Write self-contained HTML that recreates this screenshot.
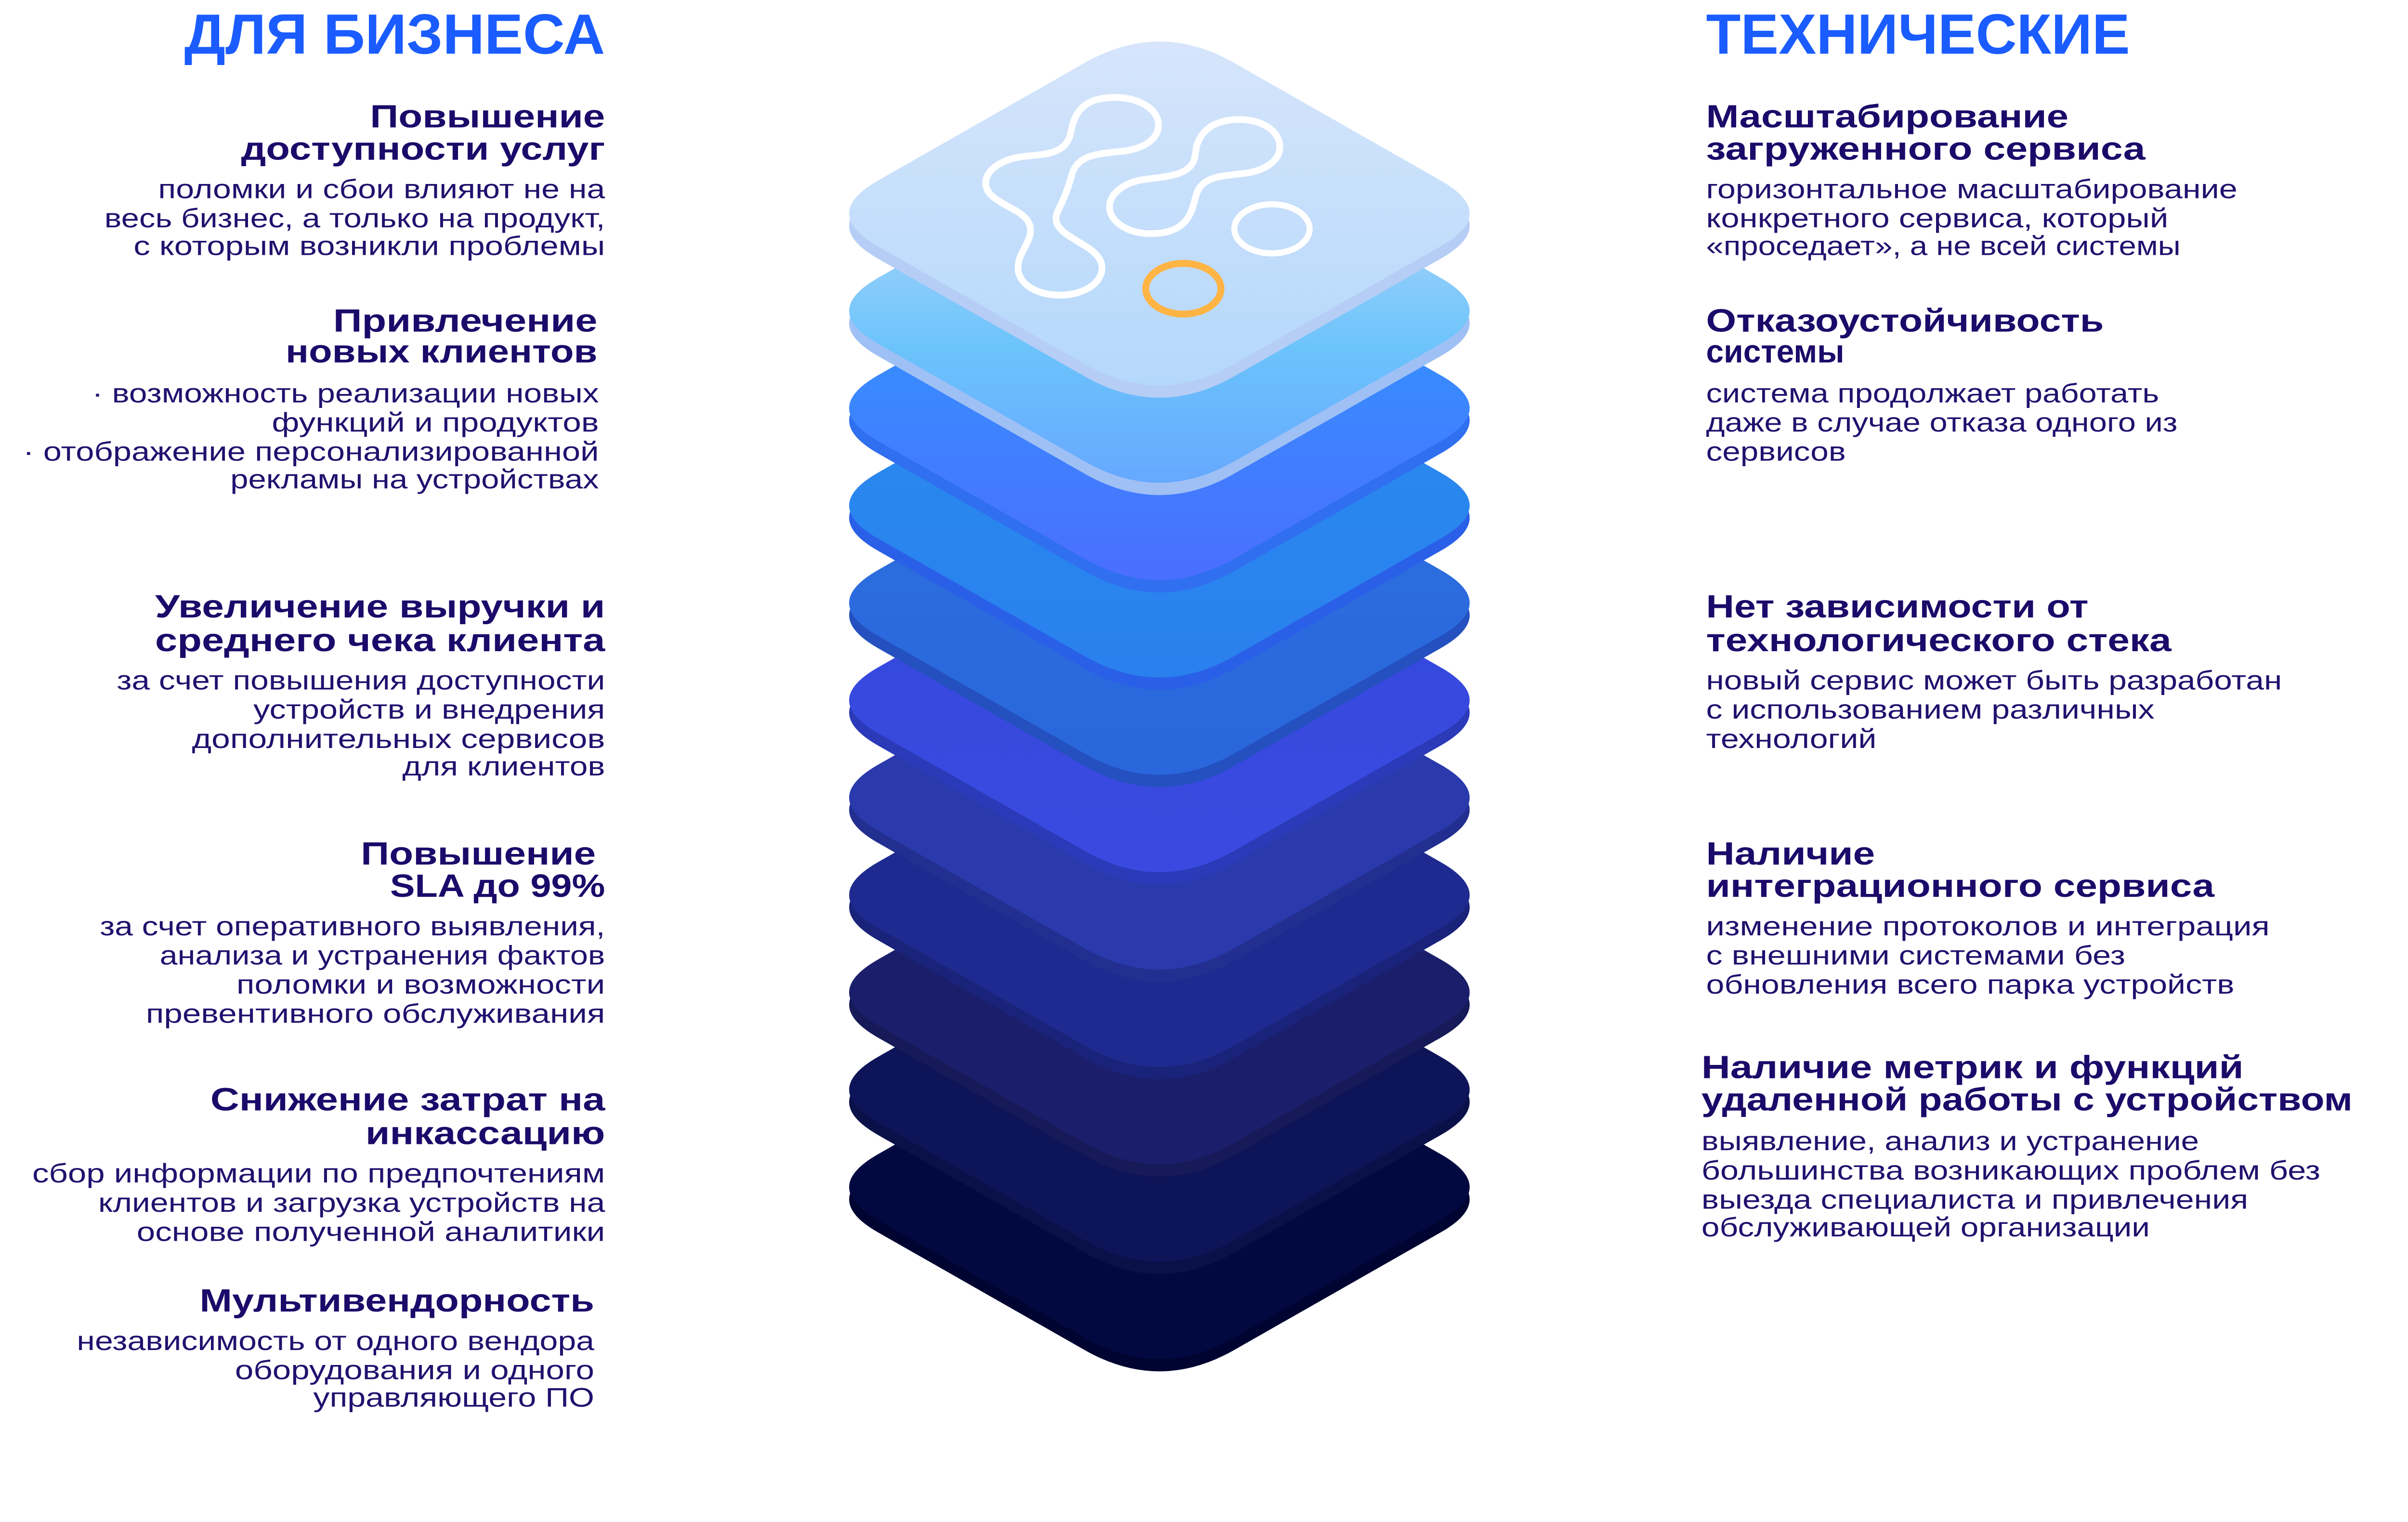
<!DOCTYPE html>
<html><head><meta charset="utf-8"><style>
html,body{margin:0;padding:0;background:#fff;overflow:hidden;}
svg{display:block;}
text{font-family:"Liberation Sans","DejaVu Sans",sans-serif;}
.t{font-weight:bold;font-size:37px;fill:#1a5cff;}
.h{font-weight:bold;font-size:21px;fill:#1c0a6a;}
.b{font-size:17.5px;fill:#22106e;}
</style></head><body>
<svg width="5324" height="3160" viewBox="0 0 1648 978" preserveAspectRatio="xMinYMin meet" xmlns="http://www.w3.org/2000/svg">
<defs>
<path id="d" d="M -48.6,-98.1 Q 0,-125.8 48.6,-98.1 L 183.3,-21.4 Q 220.8,0 183.3,21.4 L 48.6,98.1 Q 0,125.8 -48.6,98.1 L -183.3,21.4 Q -220.8,0 -183.3,-21.4 Z"/>
<linearGradient id="g0" x1="0" y1="0" x2="0" y2="1"><stop offset="0" stop-color="#d6e5fb"/><stop offset="1" stop-color="#b4d8fb"/></linearGradient>
<linearGradient id="g1" x1="0" y1="0" x2="0" y2="1"><stop offset="0" stop-color="#c6dbfa"/><stop offset="0.6" stop-color="#6cc4fb"/><stop offset="1" stop-color="#66a8ff"/></linearGradient>
<linearGradient id="g2" x1="0" y1="0" x2="0" y2="1"><stop offset="0" stop-color="#2f9cff"/><stop offset="1" stop-color="#4a6eff"/></linearGradient>
<linearGradient id="g3" x1="0" y1="0" x2="0" y2="1"><stop offset="0" stop-color="#2a8cf0"/><stop offset="1" stop-color="#2a80ee"/></linearGradient>
<linearGradient id="g4" x1="0" y1="0" x2="0" y2="1"><stop offset="0" stop-color="#2c70e0"/><stop offset="1" stop-color="#2a66dc"/></linearGradient>
<linearGradient id="g5" x1="0" y1="0" x2="0" y2="1"><stop offset="0" stop-color="#3448dc"/><stop offset="1" stop-color="#3a4ae0"/></linearGradient>
</defs>
<g transform="scale(0.987)">
<g transform="translate(755,773)"><use href="#d" y="8" fill="#000430"/><use href="#d" fill="#020840"/></g>
<g transform="translate(755,709.6)"><use href="#d" y="8" fill="#0a1048"/><use href="#d" fill="#0e1458"/></g>
<g transform="translate(755,646.2)"><use href="#d" y="8" fill="#161a58"/><use href="#d" fill="#1b1e6a"/></g>
<g transform="translate(755,582.8)"><use href="#d" y="8" fill="#19237a"/><use href="#d" fill="#1f2a90"/></g>
<g transform="translate(755,519.4)"><use href="#d" y="8" fill="#222f90"/><use href="#d" fill="#2a3aac"/></g>
<g transform="translate(755,456)"><use href="#d" y="8" fill="#2a3ab8"/><use href="#d" fill="url(#g5)"/></g>
<g transform="translate(755,392.6)"><use href="#d" y="8" fill="#2450c0"/><use href="#d" fill="url(#g4)"/></g>
<g transform="translate(755,329.2)"><use href="#d" y="8" fill="#2a60e8"/><use href="#d" fill="url(#g3)"/></g>
<g transform="translate(755,265.8)"><use href="#d" y="8" fill="#2f6ff0"/><use href="#d" fill="url(#g2)"/></g>
<g transform="translate(755,202.4)"><use href="#d" y="8" fill="#9fc0f5"/><use href="#d" fill="url(#g1)"/></g>
<g transform="translate(755,139)"><use href="#d" y="8" fill="#b6cdf6"/><use href="#d" fill="url(#g0)"/></g>
<g transform="translate(8,0)">
<g transform="translate(538.6,14.6) scale(0.2706,0.2053)" fill="none" stroke="#ffffff">
<path vector-effect="non-scaling-stroke" stroke-width="14" d="M 560,330 C 575,250 620,238 665,238 C 720,238 768,275 768,325 C 768,375 725,405 670,410 C 620,418 575,420 560,480 C 550,530 540,560 525,600 C 510,650 545,670 580,700 C 615,725 632,750 632,778 C 632,830 585,865 530,865 C 475,865 430,830 430,778 C 430,745 445,720 455,690 C 470,640 450,615 415,590 C 380,565 352,545 352,510 C 352,465 395,432 445,425 C 490,418 540,420 555,360 Z"/>
<path vector-effect="non-scaling-stroke" stroke-width="14" d="M 860,390 C 875,330 915,308 963,308 C 1018,308 1060,345 1060,395 C 1060,445 1015,475 965,480 C 915,488 870,490 858,550 C 848,600 840,670 748,670 C 695,670 650,632 650,585 C 650,540 690,505 735,498 C 790,488 845,485 855,430 Z"/>
</g>
<ellipse cx="820.3" cy="149" rx="24.5" ry="16" fill="none" stroke="#fff" stroke-width="4"/>
<ellipse cx="762.6" cy="188" rx="24.5" ry="16.5" fill="none" stroke="#ffb444" stroke-width="4.5"/>
</g>

<g text-anchor="end">
<text class="t" x="394" y="35" textLength="274" lengthAdjust="spacingAndGlyphs">ДЛЯ БИЗНЕСА</text>
<text class="h" x="394" y="83" textLength="153" lengthAdjust="spacingAndGlyphs">Повышение</text>
<text class="h" x="394" y="104" textLength="237" lengthAdjust="spacingAndGlyphs">доступности услуг</text>
<text class="b" x="394" y="129" textLength="291" lengthAdjust="spacingAndGlyphs">поломки и сбои влияют не на</text>
<text class="b" x="394" y="148" textLength="326" lengthAdjust="spacingAndGlyphs">весь бизнес, а только на продукт,</text>
<text class="b" x="394" y="166" textLength="307" lengthAdjust="spacingAndGlyphs">с которым возникли проблемы</text>
<text class="h" x="389" y="216" textLength="172" lengthAdjust="spacingAndGlyphs">Привлечение</text>
<text class="h" x="389" y="236" textLength="203" lengthAdjust="spacingAndGlyphs">новых клиентов</text>
<text class="b" x="390" y="262" textLength="330" lengthAdjust="spacingAndGlyphs">· возможность реализации новых</text>
<text class="b" x="390" y="281" textLength="213" lengthAdjust="spacingAndGlyphs">функций и продуктов</text>
<text class="b" x="390" y="300" textLength="375" lengthAdjust="spacingAndGlyphs">· отображение персонализированной</text>
<text class="b" x="390" y="318" textLength="240" lengthAdjust="spacingAndGlyphs">рекламы на устройствах</text>
<text class="h" x="394" y="402" textLength="293" lengthAdjust="spacingAndGlyphs">Увеличение выручки и</text>
<text class="h" x="394" y="424" textLength="293" lengthAdjust="spacingAndGlyphs">среднего чека клиента</text>
<text class="b" x="394" y="449" textLength="318" lengthAdjust="spacingAndGlyphs">за счет повышения доступности</text>
<text class="b" x="394" y="468" textLength="229" lengthAdjust="spacingAndGlyphs">устройств и внедрения</text>
<text class="b" x="394" y="487" textLength="269" lengthAdjust="spacingAndGlyphs">дополнительных сервисов</text>
<text class="b" x="394" y="505" textLength="132" lengthAdjust="spacingAndGlyphs">для клиентов</text>
<text class="h" x="388" y="563" textLength="153" lengthAdjust="spacingAndGlyphs">Повышение</text>
<text class="h" x="394" y="584" textLength="140" lengthAdjust="spacingAndGlyphs">SLA до 99%</text>
<text class="b" x="394" y="609" textLength="329" lengthAdjust="spacingAndGlyphs">за счет оперативного выявления,</text>
<text class="b" x="394" y="628" textLength="290" lengthAdjust="spacingAndGlyphs">анализа и устранения фактов</text>
<text class="b" x="394" y="647" textLength="240" lengthAdjust="spacingAndGlyphs">поломки и возможности</text>
<text class="b" x="394" y="666" textLength="299" lengthAdjust="spacingAndGlyphs">превентивного обслуживания</text>
<text class="h" x="394" y="723" textLength="257" lengthAdjust="spacingAndGlyphs">Снижение затрат на</text>
<text class="h" x="394" y="745" textLength="156" lengthAdjust="spacingAndGlyphs">инкассацию</text>
<text class="b" x="394" y="770" textLength="373" lengthAdjust="spacingAndGlyphs">сбор информации по предпочтениям</text>
<text class="b" x="394" y="789" textLength="330" lengthAdjust="spacingAndGlyphs">клиентов и загрузка устройств на</text>
<text class="b" x="394" y="808" textLength="305" lengthAdjust="spacingAndGlyphs">основе полученной аналитики</text>
<text class="h" x="387" y="854" textLength="257" lengthAdjust="spacingAndGlyphs">Мультивендорность</text>
<text class="b" x="387" y="879" textLength="337" lengthAdjust="spacingAndGlyphs">независимость от одного вендора</text>
<text class="b" x="387" y="898" textLength="234" lengthAdjust="spacingAndGlyphs">оборудования и одного</text>
<text class="b" x="387" y="916" textLength="183" lengthAdjust="spacingAndGlyphs">управляющего ПО</text>
</g>

<g text-anchor="start">
<text class="t" x="1111" y="35" textLength="276" lengthAdjust="spacingAndGlyphs">ТЕХНИЧЕСКИЕ</text>
<text class="h" x="1111" y="83" textLength="236" lengthAdjust="spacingAndGlyphs">Масштабирование</text>
<text class="h" x="1111" y="104" textLength="286" lengthAdjust="spacingAndGlyphs">загруженного сервиса</text>
<text class="b" x="1111" y="129" textLength="346" lengthAdjust="spacingAndGlyphs">горизонтальное масштабирование</text>
<text class="b" x="1111" y="148" textLength="301" lengthAdjust="spacingAndGlyphs">конкретного сервиса, который</text>
<text class="b" x="1111" y="166" textLength="309" lengthAdjust="spacingAndGlyphs">«проседает», а не всей системы</text>
<text class="h" x="1111" y="216" textLength="259" lengthAdjust="spacingAndGlyphs">Отказоустойчивость</text>
<text class="h" x="1111" y="236" textLength="90" lengthAdjust="spacingAndGlyphs">системы</text>
<text class="b" x="1111" y="262" textLength="295" lengthAdjust="spacingAndGlyphs">система продолжает работать</text>
<text class="b" x="1111" y="281" textLength="307" lengthAdjust="spacingAndGlyphs">даже в случае отказа одного из</text>
<text class="b" x="1111" y="300" textLength="91" lengthAdjust="spacingAndGlyphs">сервисов</text>
<text class="h" x="1111" y="402" textLength="249" lengthAdjust="spacingAndGlyphs">Нет зависимости от</text>
<text class="h" x="1111" y="424" textLength="303" lengthAdjust="spacingAndGlyphs">технологического стека</text>
<text class="b" x="1111" y="449" textLength="375" lengthAdjust="spacingAndGlyphs">новый сервис может быть разработан</text>
<text class="b" x="1111" y="468" textLength="292" lengthAdjust="spacingAndGlyphs">с использованием различных</text>
<text class="b" x="1111" y="487" textLength="111" lengthAdjust="spacingAndGlyphs">технологий</text>
<text class="h" x="1111" y="563" textLength="110" lengthAdjust="spacingAndGlyphs">Наличие</text>
<text class="h" x="1111" y="584" textLength="331" lengthAdjust="spacingAndGlyphs">интеграционного сервиса</text>
<text class="b" x="1111" y="609" textLength="367" lengthAdjust="spacingAndGlyphs">изменение протоколов и интеграция</text>
<text class="b" x="1111" y="628" textLength="273" lengthAdjust="spacingAndGlyphs">с внешними системами без</text>
<text class="b" x="1111" y="647" textLength="344" lengthAdjust="spacingAndGlyphs">обновления всего парка устройств</text>
<text class="h" x="1108" y="702" textLength="353" lengthAdjust="spacingAndGlyphs">Наличие метрик и функций</text>
<text class="h" x="1108" y="723" textLength="424" lengthAdjust="spacingAndGlyphs">удаленной работы с устройством</text>
<text class="b" x="1108" y="749" textLength="324" lengthAdjust="spacingAndGlyphs">выявление, анализ и устранение</text>
<text class="b" x="1108" y="768" textLength="403" lengthAdjust="spacingAndGlyphs">большинства возникающих проблем без</text>
<text class="b" x="1108" y="787" textLength="356" lengthAdjust="spacingAndGlyphs">выезда специалиста и привлечения</text>
<text class="b" x="1108" y="805" textLength="292" lengthAdjust="spacingAndGlyphs">обслуживающей организации</text>
</g>
</g>
</svg>
</body></html>
